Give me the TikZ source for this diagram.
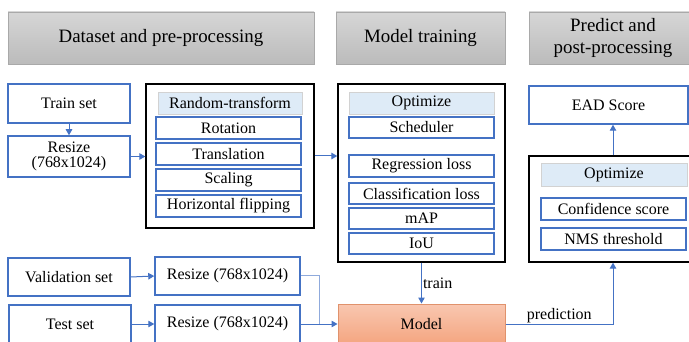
\documentclass[tikz,border=0pt]{standalone}
\usepackage{fontspec}
\setmainfont{Liberation Serif}
\usetikzlibrary{arrows.meta}
\definecolor{bl}{HTML}{4472C4}
\definecolor{bll}{HTML}{8FAADC}
\definecolor{lfill}{HTML}{DEEBF7}
\definecolor{hbord}{HTML}{A9A9A9}
\definecolor{htop}{HTML}{D6D6D6}
\definecolor{hbot}{HTML}{BBBBBB}
\definecolor{mbord}{HTML}{E0926C}
\definecolor{mtop}{HTML}{F9C7B0}
\definecolor{mbot}{HTML}{F4A580}
\tikzset{
  hdr/.style={draw=hbord, line width=0.9pt, top color=htop, bottom color=hbot, font=\fontsize{18.9}{21}\selectfont, align=center, inner sep=0pt},
  bbox/.style={draw=bl, line width=1.5pt, fill=white, font=\fontsize{16}{17.5}\selectfont, align=center, inner sep=0pt},
  sbox/.style={draw=bl, line width=1.5pt, fill=white, font=\fontsize{16}{17.5}\selectfont, inner sep=0pt},
  lbox/.style={draw=gray!35, line width=0.8pt, fill=lfill, font=\fontsize{16}{17.5}\selectfont, inner sep=0pt},
  kbox/.style={draw=black, line width=1.3pt, fill=white, inner sep=0pt},
  mbox/.style={draw=mbord, line width=1pt, top color=mtop, bottom color=mbot, inner sep=0pt, font=\fontsize{16}{17.5}\selectfont},
  conn/.style={draw=bl, line width=1pt, -{Triangle[width=6.5pt,length=6pt]}},
  lab/.style={font=\fontsize{16}{17.5}\selectfont, inner sep=1pt}
}
\newcommand{\bx}[6]{\node[#1, minimum width={#4-#3}, minimum height={#6-#5}] (#2) at ({(#3+#4)/2},{(#5+#6)/2})}
\begin{document}
\begin{tikzpicture}[x=1pt,y=-1pt]
\useasboundingbox (0,0) rectangle (689,342);
\clip (0,0) rectangle (689,342);
% headers
\bx{hdr}{h1}{8}{314}{12}{64} {Dataset and pre-processing};
\bx{hdr}{h2}{336}{505}{12}{64} {Model training};
\bx{hdr}{h3}{529}{697}{12}{64} {Predict and\\[1pt]post-processing};
% left column
\bx{bbox}{train}{8}{130}{84}{123} {Train set};
\bx{bbox}{rs1}{8}{130}{136}{177} {Resize\\[-2pt](768x1024)};
\bx{bbox}{val}{8}{130}{258}{296} {Validation set};
\bx{bbox}{test}{9}{131}{305}{343} {Test set};
% random transform
\bx{kbox}{rt}{146}{314}{84}{228} {};
\bx{lbox}{rth}{158}{302}{92}{114} {Random-transform};
\bx{sbox}{rot}{156}{301}{117}{139} {Rotation};
\bx{sbox}{tra}{156}{301}{143}{165} {Translation};
\bx{sbox}{sca}{156}{301}{169}{191} {Scaling};
\bx{sbox}{hfl}{156}{301}{195}{217} {Horizontal flipping};
\bx{bbox}{rv}{155}{300}{257}{295} {Resize (768x1024)};
\bx{bbox}{rtst}{155}{300}{305}{343} {Resize (768x1024)};
% model training
\bx{kbox}{mt}{338}{505}{84}{262} {};
\bx{lbox}{op1}{349}{494}{92}{114} {Optimize};
\bx{sbox}{sch}{349}{494}{117}{138} {Scheduler};
\bx{sbox}{reg}{349}{494}{155}{177} {Regression loss};
\bx{sbox}{cls}{349}{494}{183}{204} {Classification loss};
\bx{sbox}{map}{349}{494}{208}{229} {mAP};
\bx{sbox}{iou}{349}{494}{233}{254} {IoU};
\bx{mbox}{model}{338}{505}{304}{344} {Model};
% predict
\bx{kbox}{pp}{529}{697}{156}{262} {};
\bx{lbox}{op2}{541}{687}{163}{186} {Optimize};
\bx{sbox}{conf}{541}{686}{198}{220} {Confidence score};
\bx{sbox}{nms}{541}{686}{228}{250} {NMS threshold};
\bx{bbox}{ead}{529}{688}{86}{124} {EAD Score};
% connectors
\coordinate (j) at (319,324);
\draw[conn] (train.south) -- (rs1.north);
\draw[conn] (rs1.east) -- (rt.west |- rs1.east);
\draw[conn] (rt.east) -- (mt.west |- rt.east);
\draw[conn] (mt.south) -- node[lab, right] {train} (model.north);
\draw[conn] (model.east) -| node[lab, above, pos=0.25] {prediction} (pp.south);
\draw[conn] (pp.north) -- (pp.north |- ead.south);
\draw[conn] (val.east) -- (rv.west);
\draw[conn] (test.east) -- (rtst.west);
\draw[draw=bll, line width=1pt] (rv.east) -| (j);
\draw[conn] (rtst.east) -- (model.west);
\end{tikzpicture}
\end{document}
